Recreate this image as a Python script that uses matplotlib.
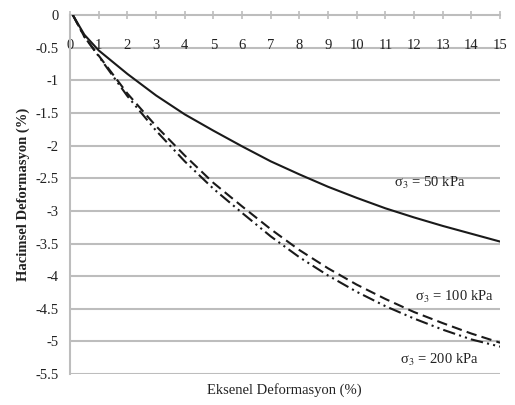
import matplotlib
matplotlib.use("Agg")
import matplotlib.pyplot as plt

plt.rcParams['font.family'] = ['Liberation Serif', 'DejaVu Serif']
plt.rcParams['mathtext.fontset'] = 'stix'

# axial strain (%)
strain = [0.1, 0.5, 1, 2, 3, 4, 5, 6, 7, 8, 9, 10, 11, 12, 13, 14, 15]

# volumetric strain (%) for each confining pressure
vol_50 = [0, -0.30, -0.54, -0.90, -1.23, -1.52, -1.77, -2.01, -2.24, -2.44,
          -2.63, -2.80, -2.96, -3.10, -3.23, -3.35, -3.47]
vol_100 = [0, -0.33, -0.62, -1.20, -1.70, -2.15, -2.57, -2.93, -3.28, -3.60,
           -3.88, -4.13, -4.35, -4.55, -4.72, -4.88, -5.02]
vol_200 = [0, -0.33, -0.63, -1.24, -1.77, -2.24, -2.66, -3.03, -3.39, -3.71,
           -3.99, -4.24, -4.46, -4.65, -4.82, -4.97, -5.08]

x_ticks = list(range(0, 16))
y_ticks = [0, -0.5, -1, -1.5, -2, -2.5, -3, -3.5, -4, -4.5, -5, -5.5]
y_tick_labels = ["0", "-0.5", "-1", "-1.5", "-2", "-2.5", "-3", "-3.5",
                 "-4", "-4.5", "-5", "-5.5"]

fig = plt.figure(figsize=(5.15, 4.05), dpi=100)
ax = fig.add_axes([0.136, 0.0765, 0.835, 0.886])

grid_col = '#bdbdbd'
for yv in y_ticks[1:]:
    ax.axhline(yv, color=grid_col, lw=1.5, zorder=1)

ax.plot(strain, vol_50, color='#1a1a1a', lw=1.5, zorder=3)
ax.plot(strain, vol_100, color='#1a1a1a', lw=1.5, dashes=(5, 2.5), zorder=3)
ax.plot(strain, vol_200, color='#1a1a1a', lw=1.5,
        dashes=(6, 2, 1, 2, 1, 2), zorder=3)

ax.set_xlim(0, 15)
ax.set_ylim(-5.5, 0)

for s in ['top', 'right']:
    ax.spines[s].set_visible(False)
ax.spines['bottom'].set_position(('data', 0))
ax.spines['bottom'].set_color(grid_col)
ax.spines['bottom'].set_linewidth(1.5)
ax.spines['left'].set_color(grid_col)
ax.spines['left'].set_linewidth(1.5)

ax.set_xticks(x_ticks)
ax.set_yticks(y_ticks)
ax.set_yticklabels(y_tick_labels)
ax.tick_params(axis='x', direction='inout', length=6, width=1.2,
               color=grid_col, pad=14, labelsize=10.5, labelcolor='#222222')
ax.tick_params(axis='y', length=0, pad=8, labelsize=10.5,
               labelcolor='#222222')

ax.text(12.55, -2.57, 'σ$_3$ = 50 kPa', ha='center', va='center',
        fontsize=10.5, color='#222222')
ax.text(13.4, -4.32, 'σ$_3$ = 100 kPa', ha='center', va='center',
        fontsize=10.5, color='#222222')
ax.text(12.9, -5.28, 'σ$_3$ = 200 kPa', ha='center', va='center',
        fontsize=10.5, color='#222222')

fig.text(0.553, 0.037, 'Eksenel Deformasyon (%)', ha='center', va='center',
         fontsize=10.5, color='#222222')
fig.text(0.045, 0.52, 'Hacimsel Deformasyon (%)', ha='center', va='center',
         rotation=90, fontsize=10.5, fontweight='bold', color='#222222')

fig.savefig('out.png', dpi=100)
